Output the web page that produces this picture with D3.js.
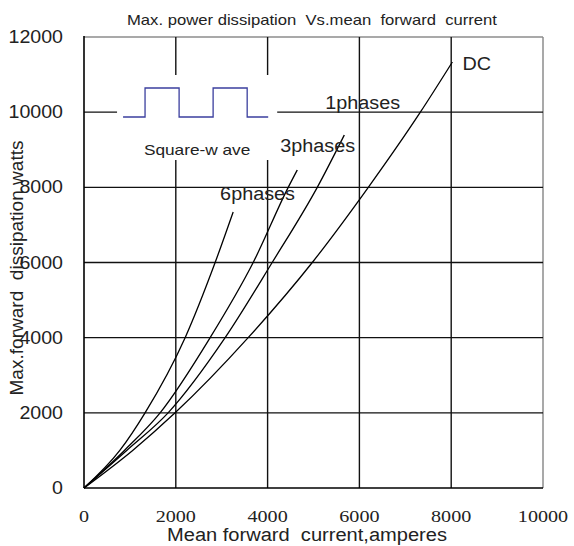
<!DOCTYPE html>
<html>
<head>
<meta charset="utf-8">
<script src="https://cdn.jsdelivr.net/npm/d3@7"></script>
<style>
  body { margin: 0; background: #fff; }
  svg { display: block; }
  text { white-space: pre; font-family: "Liberation Sans", Arial, sans-serif; fill: #222; }
</style>
</head>
<body>
<svg id="chart" width="574" height="546"></svg>
<script>
// x = mean forward current (A), y = max forward dissipation (W)
const xTicks = [0, 2000, 4000, 6000, 8000, 10000];
const yTicks = [0, 2000, 4000, 6000, 8000, 10000, 12000];

const dcX    = [0, 1060, 1985, 3577, 4973, 6194, 7328, 8026];
const dcY    = [0, 1000, 2000, 4000, 6000, 8000, 10000, 11335];
const ph1X   = [0, 930, 1832, 3075, 4100, 5082, 5671];
const ph1Y   = [0, 1000, 2000, 4000, 6000, 8000, 9393];
const ph3X   = [0, 880, 1658, 2748, 3686, 4449, 4646];
const ph3Y   = [0, 1000, 2000, 4000, 6000, 8000, 8461];
const ph6X   = [0, 780, 1330, 2203, 2857, 3250];
const ph6Y   = [0, 1000, 2000, 4000, 6000, 7344];

// curve labels: name, x of text start, y of baseline
const labelNames = ['DC', '1phases', '3phases', '6phases'];
const labelX = [8244, 5256, 4275, 2966];
const labelY = [11122, 10084, 8940, 7663];

// square-wave inset sketch
const waveX = [851, 1330, 1330, 2072, 2072, 2813, 2813, 3555, 3555, 4013];
const waveY = [9871, 9871, 10643, 10643, 9871, 9871, 10643, 10643, 9871, 9871];

const svg = d3.select('#chart');
const margin = {top: 37, right: 31, bottom: 58, left: 84};
const width = +svg.attr('width');
const height = +svg.attr('height');
const innerWidth = width - margin.left - margin.right;
const innerHeight = height - margin.top - margin.bottom;

const xScale = d3.scaleLinear().domain([0, 10000]).range([0, innerWidth]);
const yScale = d3.scaleLinear().domain([0, 12000]).range([innerHeight, 0]);

const g = svg.append('g').attr('transform', `translate(${margin.left},${margin.top})`);

// the original lettering is a bit wider than Liberation Sans
const widen = (sel, f) => sel.each(function () {
    const w = this.getComputedTextLength();
    d3.select(this).attr('textLength', w * f).attr('lengthAdjust', 'spacingAndGlyphs');
});

// frame: top and right grey
g.append('line').attr('x1', 0).attr('x2', innerWidth).attr('y1', 0).attr('y2', 0)
    .attr('stroke', '#8c8c8c').attr('stroke-width', 1.5);
g.append('line').attr('x1', innerWidth).attr('x2', innerWidth).attr('y1', 0).attr('y2', innerHeight)
    .attr('stroke', '#8c8c8c').attr('stroke-width', 1.5);

// grid
g.selectAll('.hgrid').data(yTicks.slice(1, -1)).enter().append('line')
    .attr('x1', 0).attr('x2', innerWidth)
    .attr('y1', d => yScale(d)).attr('y2', d => yScale(d))
    .attr('stroke', '#111').attr('stroke-width', 1.4);
g.selectAll('.vgrid').data(xTicks.slice(1, -1)).enter().append('line')
    .attr('y1', 0).attr('y2', innerHeight)
    .attr('x1', d => xScale(d)).attr('x2', d => xScale(d))
    .attr('stroke', '#111').attr('stroke-width', 1.4);

// axes lines
g.append('line').attr('x1', 0).attr('x2', 0).attr('y1', -1).attr('y2', innerHeight)
    .attr('stroke', '#000').attr('stroke-width', 1.6);
g.append('line').attr('x1', 0).attr('x2', innerWidth).attr('y1', innerHeight).attr('y2', innerHeight)
    .attr('stroke', '#000').attr('stroke-width', 1.6);

// white box behind the inset
g.append('rect')
    .attr('x', xScale(720)).attr('y', yScale(10989))
    .attr('width', xScale(4209) - xScale(720))
    .attr('height', yScale(8727) - yScale(10989))
    .attr('fill', '#fff');

const wave = d3.line().x((d, i) => xScale(waveX[i])).y((d, i) => yScale(waveY[i]));
g.append('path').attr('d', wave(waveX)).attr('fill', 'none')
    .attr('stroke', '#3b3f9e').attr('stroke-width', 1.3);

widen(g.append('text')
    .attr('x', xScale(2465)).attr('y', yScale(8860))
    .attr('text-anchor', 'middle')
    .attr('font-size', 15)
    .text('Square-w ave'), 1.15);

// curves
const series = [[dcX, dcY], [ph1X, ph1Y], [ph3X, ph3Y], [ph6X, ph6Y]];
const line = d3.line()
    .x(d => xScale(d[0])).y(d => yScale(d[1]))
    .curve(d3.curveMonotoneX);

series.forEach(([xs, ys]) => {
    g.append('path')
        .attr('d', line(xs.map((x, i) => [x, ys[i]])))
        .attr('fill', 'none').attr('stroke', '#000').attr('stroke-width', 1.3);
});

widen(g.selectAll('.clabel').data(labelNames).enter().append('text')
    .attr('x', (d, i) => xScale(labelX[i])).attr('y', (d, i) => yScale(labelY[i]))
    .attr('font-size', 18)
    .text(d => d), 1.1);

// tick labels
widen(g.selectAll('.ylab').data(yTicks).enter().append('text')
    .attr('x', -21).attr('y', d => yScale(d) + 6)
    .attr('text-anchor', 'end')
    .attr('font-size', 17.5)
    .text(d => d), 1.12);

widen(g.selectAll('.xlab').data(xTicks).enter().append('text')
    .attr('x', d => xScale(d)).attr('y', innerHeight + 34)
    .attr('text-anchor', 'middle')
    .style('font-family', '"Liberation Serif", "Times New Roman", serif')
    .attr('font-size', 17.5)
    .text(d => d), 1.15);

// titles
svg.append('text').attr('x', 312).attr('y', 25)
    .attr('text-anchor', 'middle')
    .attr('font-size', 15)
    .attr('textLength', 370).attr('lengthAdjust', 'spacingAndGlyphs')
    .text('Max. power dissipation  Vs.mean  forward  current');

svg.append('text').attr('x', 307).attr('y', 541)
    .attr('text-anchor', 'middle')
    .attr('font-size', 18)
    .attr('textLength', 280).attr('lengthAdjust', 'spacingAndGlyphs')
    .text('Mean forward  current,amperes');

svg.append('text')
    .attr('transform', 'translate(23,268) rotate(-90)')
    .attr('text-anchor', 'middle')
    .attr('font-size', 18)
    .attr('textLength', 255).attr('lengthAdjust', 'spacingAndGlyphs')
    .text('Max.forward  dissipation watts');
</script>
</body>
</html>
